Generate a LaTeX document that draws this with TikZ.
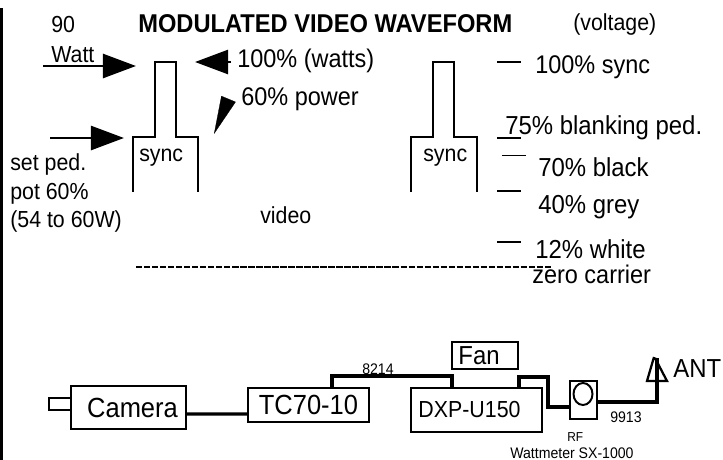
\documentclass[tikz,border=0pt]{standalone}
\usepackage{fontspec}
\setmainfont[FakeStretch=0.92]{Liberation Sans}
\usetikzlibrary{shapes.geometric, arrows.meta, positioning, calc}
\tikzset{
  lbl/.style={font=\fontsize{18.15}{20}\selectfont, anchor=base west, inner sep=0pt},
  lblbig/.style={font=\fontsize{18.5}{20}\selectfont, anchor=base west, inner sep=0pt},
  lblsm/.style={font=\fontsize{16.5}{18}\selectfont, anchor=base west, inner sep=0pt},
  lbltiny/.style={font=\fontsize{10.9}{12}\selectfont, anchor=base west, inner sep=0pt},
  pulse/.style={line width=2.1pt},
  tick/.style={line width=2.1pt},
  wire/.style={line width=2.3pt},
  box/.style={draw, line width=1.4pt, inner sep=0pt},
  bigarrow/.style={line width=2.1pt, -{Triangle[length=23.5pt, width=17pt]}}
}
\begin{document}
\begin{tikzpicture}[x=0.025cm, y=-0.025cm]
\useasboundingbox (0,0) rectangle (723,460);
% Margin rule
\fill (0,8) rectangle (3,460);
%
% Waveform heading
\node[lbl, font=\fontsize{18.3}{20}\selectfont\bfseries] (title) at (138,32) {MODULATED VIDEO WAVEFORM};
\node[lblsm] (voltage) at (573,30) {(voltage)};
%
% Sync pulses - manual
\draw[pulse] (133,192) -- (133,137) -- (155,137) -- (155,62) -- (176,62) -- (176,137) -- (198,137) -- (198,192);
\node[lblsm] (syncA) at (139,161) {sync};
\draw[pulse] (411,192) -- (411,137) -- (433,137) -- (433,62) -- (454,62) -- (454,137) -- (477,137) -- (477,192);
\node[lblsm] (syncB) at (423,161) {sync};
%
% Left side labels and arrows
\node[lblsm] (ninety) at (51,32) {90};
\node[lblsm] (watt) at (51,62) {Watt};
\coordinate (wattFrom) at (43,66);
\coordinate (wattTo) at (136,66);
\draw[bigarrow] (wattFrom) -- (wattTo);
\coordinate (pedFrom) at (50,138);
\coordinate (pedTo) at (124,138);
\draw[bigarrow] (pedFrom) -- (pedTo);
\node[lblsm] (setped) at (10,170) {set ped.};
\node[lblsm] (pot) at (10,199) {pot 60\%};
\node[lblsm] (range) at (10,227) {(54 to 60W)};
\node[lblsm] (video) at (260,223) {video};
%
% Watts side
\node[lbl] (full) at (237,67) {100\% (watts)};
\coordinate (fullFrom) at (231,62);
\coordinate (fullTo) at (195,62);
\draw[bigarrow] (fullFrom) -- (fullTo);
\node[lbl] (power) at (241,105) {60\% power};
\coordinate (powerFrom) at (228.5,99);
\coordinate (powerTo) at (214,134);
\draw[line width=0.2pt, -{Triangle[length=27pt, width=11pt]}] (powerFrom) -- (powerTo);
%
% Voltage scale
\draw[tick] (497,62) -- (521,62);
\node[lbl] (vsync) at (535,73) {100\% sync};
\draw[tick] (497,138) -- (521,138);
\node[lblbig] (vblank) at (505,134) {75\% blanking ped.};
\draw[line width=0.5pt] (502,155) -- (526,155);
\node[lblbig] (vblack) at (538,176) {70\% black};
\draw[tick] (497,191) -- (521,191);
\node[lblbig] (vgrey) at (538,213) {40\% grey};
\draw[tick] (497,242) -- (521,242);
\node[lblbig] (vwhite) at (535,258) {12\% white};
\draw[line width=1pt, dash pattern=on 4.5pt off 1.2pt] (136,267) -- (552,267);
\node[lbl] (vzero) at (532,283) {zero carrier};
%
% Signal chain
\node[box, minimum width=0.55cm, minimum height=0.3cm] (lens) at (60,404) {};
\node[box, minimum width=2.875cm, minimum height=1.075cm, font=\fontsize{19.7}{22}\selectfont] (camera) at (128.5,407.5) {\hspace*{0.2cm}Camera};
\node[box, minimum width=3.025cm, minimum height=0.85cm, font=\fontsize{19.7}{22}\selectfont] (tc) at (308.5,405) {\raisebox{-0.7pt}{TC70-10}};
\node[box, minimum width=3.275cm, minimum height=1.1cm, font=\fontsize{16.5}{18}\selectfont] (dxp) at (476.5,410) {DXP-U150\hspace*{0.35cm}};
\node[box, minimum width=1.65cm, minimum height=0.675cm, font=\fontsize{18.5}{20}\selectfont] (fan) at (485,355.5) {\raisebox{-1pt}{Fan}\hspace*{0.3cm}};
\node[box, minimum width=0.675cm, minimum height=0.95cm] (meter) at (583.5,400) {};
\node[draw, ellipse, line width=1.4pt, inner sep=0pt, minimum width=0.475cm, minimum height=0.55cm] (gauge) at (583,394) {};
%
\draw[wire] ($(camera.east)+(0,6.5)$) -- ($(tc.west)+(0,9)$);
\draw[wire] ($(tc.north)+(23.5,0)$) |- ($(dxp.north)+(-24.5,-11)$) -- ($(dxp.north)+(-24.5,0)$);
\node[lbltiny] (cableA) at (362,374) {8214};
\coordinate (bendA) at (548,377);
\coordinate (bendB) at (548,407);
\draw[wire] ($(dxp.north)+(42.5,0)$) |- (bendA) -- (bendB) -- ($(meter.west)+(0,7)$);
%
% Antenna
\coordinate (antTop) at (657,358);
\draw[line width=1.6pt] (654,357) -- (647,381) -- (667,381) -- (655,358);
\draw[wire] ($(meter.east)+(0,2)$) -| (antTop);
\node[lblbig] (ant) at (673,377) {ANT};
\node[lbltiny] (cableB) at (610,422) {9913};
\node[lbltiny, font=\fontsize{9.2}{10}\selectfont] (rf) at (567,441) {RF};
\node[lbltiny] (wattmeter) at (510,458) {Wattmeter  SX-1000};
\end{tikzpicture}
\end{document}
